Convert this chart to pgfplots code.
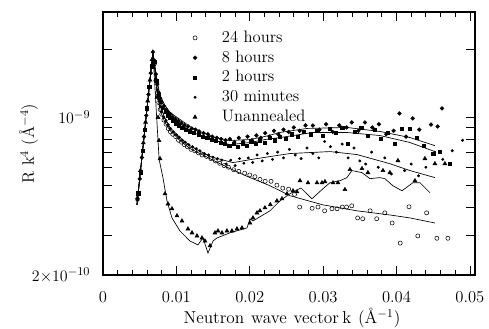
\documentclass[border=0pt]{standalone}
\usepackage{fontspec}
\usepackage{pgfplots}
\pgfplotsset{compat=1.18}
\begin{document}
\begin{tikzpicture}[font=\fontsize{12.5}{15}\selectfont]
\begin{axis}[
  scale only axis, width=280pt, height=198pt,
  xmin=0, xmax=0.0507, ymode=log, ymin=0.2, ymax=2.92,
  scaled x ticks=false,
  xtick={0,0.01,0.02,0.03,0.04,0.05},
  xticklabels={0,0.01,0.02,0.03,0.04,0.05},
  minor x tick num=4,
  ytick={0.2,0.3,0.4,0.5,0.6,0.7,0.8,0.9,1,2},
  yticklabels={$2{\times}10^{-10}$,{},{},{},{},{},{},{},$10^{-9}$,{}},
  tick align=inside, major tick length=7pt, minor tick length=3.75pt,
  tick style={black, line width=0.6pt},
  axis line style={line width=0.9pt},
  xticklabel style={yshift=-9pt},
  yticklabel style={xshift=-6pt},
  xlabel={\fontsize{13}{15}\selectfont Neutron\hspace{0.4em}wave\hspace{0.4em}vector\hspace{0.2em}k\hspace{0.4em}(Å$^{-1}$)},
  ylabel={R k$^4$ (Å$^{-4}$)},
  xlabel style={at={(axis description cs:0.508,-0.1636)}, anchor=center},
  ylabel style={at={(axis description cs:-0.2,0.5)}, anchor=center},
  legend style={draw=none, fill=none, at={(0.2325,0.94)}, anchor=north west,
    inner sep=0pt, row sep=0pt, font=\fontsize{12.5}{15}\selectfont,
    nodes={text height=9.5pt, text depth=3pt, inner sep=1.2pt}},
  legend cell align=left,
  legend image code/.code={\path[draw=none,fill=none] (0pt,0pt) -- (23pt,0pt); \draw plot coordinates {(4pt,0pt)};},
]
% ---------- scatter: 24 hours ----------
\addplot[only marks, mark=o, mark size=1.55pt, mark options={line width=0.4pt}] coordinates {
(0.0070,1.72)(0.0072,1.45)(0.0074,1.28)(0.0076,1.16)(0.0078,1.08)(0.0080,1.03)
(0.0083,0.97)(0.0086,0.93)(0.0089,0.89)(0.0092,0.86)(0.0095,0.84)(0.0099,0.82)
(0.0103,0.79)(0.0107,0.775)(0.0111,0.755)(0.0115,0.74)(0.0120,0.72)(0.0125,0.71)
(0.0130,0.695)(0.0135,0.68)(0.0141,0.67)(0.0147,0.655)(0.0153,0.64)(0.0159,0.625)
(0.0165,0.61)(0.0171,0.60)(0.0178,0.585)(0.0185,0.575)(0.0193,0.565)(0.0200,0.555)
(0.0207,0.545)(0.0214,0.53)(0.0221,0.52)(0.0229,0.52)(0.0237,0.50)(0.0245,0.485)
(0.0253,0.48)(0.0261,0.455)(0.0268,0.40)(0.0285,0.395)(0.0293,0.40)(0.0302,0.385)
(0.0312,0.393)(0.0319,0.393)(0.0326,0.40)(0.0332,0.40)(0.0339,0.405)(0.0347,0.358)
(0.0354,0.355)(0.0364,0.385)(0.0373,0.355)(0.0384,0.377)(0.0394,0.340)(0.0405,0.277)
(0.0417,0.401)(0.0429,0.298)(0.0441,0.377)(0.0455,0.291)(0.0470,0.291)
};
\addlegendentry{24 hours}
% ---------- scatter: 8 hours ----------
\addplot[only marks, mark=*, mark size=1.4pt] coordinates {
(0.0047,0.43)(0.0050,0.533)(0.0053,0.662)(0.0056,0.82)(0.0059,1.017)(0.0062,1.261)(0.0065,1.565)(0.0068,1.94)
(0.0070,1.78)(0.0072,1.55)(0.0074,1.40)(0.0076,1.28)(0.0078,1.21)(0.0080,1.16)
(0.0083,1.12)(0.0086,1.08)(0.0089,1.05)(0.0092,1.03)(0.0095,1.00)(0.0099,0.98)
(0.0103,0.96)(0.0107,0.94)(0.0111,0.92)(0.0116,0.91)(0.0121,0.89)(0.0126,0.88)
(0.0131,0.865)(0.0137,0.85)(0.0143,0.84)(0.0149,0.82)(0.0155,0.81)(0.0161,0.80)
(0.0167,0.79)(0.0173,0.80)(0.0179,0.775)(0.0185,0.81)(0.0191,0.78)(0.0197,0.82)
(0.0203,0.79)(0.0209,0.83)(0.0215,0.81)(0.0221,0.85)(0.0227,0.82)(0.0233,0.87)
(0.0239,0.84)(0.0246,0.88)(0.0253,0.86)(0.0260,0.90)(0.0268,0.87)(0.0276,0.92)
(0.0286,0.918)(0.0295,0.88)(0.0304,0.93)(0.0313,0.86)(0.0322,0.92)(0.0332,0.90)
(0.0339,0.947)(0.0348,0.87)(0.0357,0.947)(0.0367,0.90)(0.0376,0.93)(0.0386,0.84)
(0.0396,0.87)(0.0404,1.038)(0.0413,0.82)(0.0422,0.987)(0.0431,0.88)(0.0447,0.927)
(0.0456,0.909)(0.0462,1.093)
};
\addlegendentry{8 hours}
% ---------- scatter: 2 hours ----------
\addplot[only marks, mark=square*, mark size=1.2pt] coordinates {
(0.0048,0.46)(0.0051,0.57)(0.0054,0.71)(0.0057,0.88)(0.0060,1.094)(0.0063,1.36)(0.0066,1.68)
(0.0070,1.76)(0.0073,1.45)(0.0076,1.26)(0.0079,1.17)(0.0082,1.10)(0.0085,1.06)
(0.0088,1.02)(0.0091,0.99)(0.0095,0.96)(0.0099,0.94)(0.0103,0.92)(0.0108,0.90)
(0.0113,0.88)(0.0118,0.865)(0.0124,0.85)(0.0130,0.84)(0.0136,0.82)(0.0142,0.81)
(0.0148,0.795)(0.0154,0.785)(0.0160,0.77)(0.0166,0.76)(0.0172,0.745)(0.0178,0.76)
(0.0184,0.74)(0.0190,0.765)(0.0196,0.75)(0.0202,0.78)(0.0208,0.76)(0.0214,0.79)
(0.0220,0.77)(0.0227,0.81)(0.0234,0.79)(0.0241,0.82)(0.0249,0.80)(0.0257,0.84)
(0.0265,0.82)(0.0274,0.86)(0.0283,0.84)(0.0292,0.87)(0.0300,0.829)(0.0309,0.89)
(0.0317,0.85)(0.0326,0.90)(0.0334,0.763)(0.0343,0.86)(0.0352,0.90)(0.0361,0.83)
(0.0370,0.88)(0.0379,0.80)(0.0388,0.85)(0.0398,0.76)(0.0407,0.891)(0.0418,0.891)
(0.0428,0.812)(0.0437,0.75)(0.0450,0.69)(0.0459,0.70)(0.0473,0.62)
};
\addlegendentry{2 hours}
% ---------- scatter: 30 minutes ----------
\addplot[only marks, mark=*, mark size=0.9pt] coordinates {
(0.0070,1.70)(0.0072,1.48)(0.0074,1.32)(0.0076,1.20)(0.0078,1.12)(0.0080,1.06)
(0.0083,1.00)(0.0086,0.965)(0.0089,0.925)(0.0092,0.89)(0.0096,0.86)(0.0100,0.835)
(0.0104,0.815)(0.0108,0.79)(0.0112,0.775)(0.0117,0.755)(0.0122,0.74)(0.0127,0.725)
(0.0132,0.71)(0.0138,0.69)(0.0144,0.68)(0.0150,0.665)(0.0156,0.655)(0.0162,0.645)
(0.0168,0.62)(0.0174,0.645)(0.0180,0.61)(0.0186,0.655)(0.0192,0.625)(0.0198,0.66)
(0.0204,0.63)(0.0210,0.68)(0.0217,0.64)(0.0224,0.69)(0.0231,0.65)(0.0238,0.70)
(0.0246,0.66)(0.0254,0.72)(0.0262,0.68)(0.0270,0.655)(0.0278,0.73)(0.0286,0.69)
(0.0294,0.66)(0.0302,0.78)(0.0310,0.74)(0.0318,0.70)(0.0326,0.76)(0.0334,0.66)
(0.0342,0.73)(0.0350,0.64)(0.0358,0.62)(0.0366,0.70)(0.0375,0.60)(0.0384,0.66)
(0.0393,0.56)(0.0402,0.64)(0.0411,0.58)(0.0420,0.62)(0.0430,0.55)(0.0440,0.60)
(0.0452,0.70)(0.0463,0.65)(0.0476,0.71)(0.0490,0.79)
};
\addlegendentry{30 minutes}
% ---------- scatter: Unannealed ----------
\addplot[only marks, mark=triangle*, mark size=1.7pt] coordinates {
(0.0047,0.44)(0.0051,0.58)(0.0055,0.77)(0.0058,0.95)(0.0061,1.18)(0.0064,1.46)(0.0067,1.80)
(0.00736,1.224)(0.0075,0.997)(0.00763,0.788)(0.00777,0.655)
(0.00845,0.458)(0.00886,0.413)(0.0094,0.393)(0.01008,0.366)(0.01076,0.347)
(0.01158,0.32)(0.01213,0.3075)(0.01281,0.298)(0.01349,0.292)(0.0139,0.283)(0.01458,0.2695)
(0.01526,0.3075)(0.01567,0.3135)(0.01621,0.3075)(0.01689,0.3135)(0.01757,0.3135)
(0.01826,0.32)(0.01894,0.3234)(0.02003,0.34)(0.02044,0.358)(0.02098,0.377)
(0.02139,0.385)(0.02207,0.397)(0.0228,0.41)(0.0237,0.426)(0.02439,0.435)
(0.02507,0.458)(0.02589,0.472)(0.02643,0.467)(0.02684,0.523)(0.02793,0.512)
(0.02916,0.512)(0.02984,0.512)(0.03025,0.518)(0.03134,0.512)(0.03202,0.512)
(0.03297,0.478)(0.03365,0.586)(0.03529,0.592)(0.0361,0.568)(0.03815,0.58)
(0.0391,0.568)(0.04019,0.642)(0.04251,0.523)(0.04387,0.655)(0.04523,0.622)(0.04659,0.622)
};
\addlegendentry{Unannealed}
% ---------- fitted lines ----------
\addplot[black, line width=0.5pt, forget plot] coordinates {
(0.00463,0.409)(0.0068,1.94)(0.00736,1.456)(0.00777,1.249)(0.00845,1.127)(0.00913,1.049)
(0.01049,0.977)(0.01185,0.909)(0.01322,0.864)(0.01526,0.812)(0.0173,0.788)(0.02003,0.796)
(0.02207,0.821)(0.02411,0.855)(0.02779,0.891)(0.03324,0.90)(0.03774,0.864)(0.04183,0.812)(0.04523,0.748)
};
\addplot[black, line width=0.5pt, forget plot] coordinates {
(0.00463,0.409)(0.0068,1.94)(0.00736,1.43)(0.00777,1.224)(0.00845,1.093)(0.00913,1.018)
(0.01049,0.938)(0.01185,0.873)(0.01322,0.829)(0.01526,0.788)(0.0173,0.756)(0.02003,0.772)
(0.02207,0.796)(0.02411,0.812)(0.02861,0.855)(0.03324,0.855)(0.03774,0.829)(0.04183,0.772)(0.04523,0.704)
};
\addplot[black, line width=0.5pt, forget plot] coordinates {
(0.00463,0.409)(0.0068,1.94)(0.00736,1.34)(0.00777,1.127)(0.00845,0.987)(0.00913,0.90)
(0.01049,0.812)(0.01185,0.748)(0.01458,0.669)(0.01771,0.629)(0.02003,0.648)(0.02275,0.669)
(0.02548,0.69)(0.03093,0.704)(0.0346,0.683)(0.0391,0.622)(0.04183,0.58)(0.04523,0.54)
};
\addplot[black, line width=0.5pt, forget plot] coordinates {
(0.00463,0.409)(0.0068,1.94)(0.00736,1.287)(0.00777,1.071)(0.00845,0.947)(0.00913,0.873)
(0.01049,0.788)(0.01185,0.726)(0.01322,0.69)(0.01458,0.655)(0.0173,0.592)(0.02003,0.54)
(0.02275,0.497)(0.02548,0.449)(0.02997,0.409)(0.0346,0.385)(0.0391,0.369)(0.04183,0.358)(0.04523,0.34)
};
\addplot[black, line width=0.5pt, forget plot] coordinates {
(0.00463,0.409)(0.0068,1.94)(0.00765,0.65)(0.00817,0.54)(0.00872,0.426)(0.0094,0.358)
(0.01049,0.3135)(0.01185,0.283)(0.01294,0.272)(0.01362,0.292)(0.01431,0.2504)(0.01499,0.283)
(0.01553,0.292)(0.0173,0.3075)(0.01962,0.3234)(0.02003,0.3546)(0.02044,0.3474)(0.02275,0.385)
(0.02411,0.426)(0.02548,0.458)(0.02697,0.486)(0.02847,0.435)(0.02997,0.482)(0.03093,0.5126)
(0.03229,0.523)(0.03324,0.54)(0.03392,0.58)(0.03529,0.568)(0.03638,0.534)(0.03774,0.54)
(0.03842,0.534)(0.03951,0.497)(0.04074,0.472)(0.04223,0.5126)(0.04319,0.5126)(0.04455,0.463)
};
\end{axis}
\pgfresetboundingbox
\path ([xshift=-77.5pt,yshift=-39.9pt]current axis.south west) rectangle ([xshift=10.5pt,yshift=9pt]current axis.north east);
\end{tikzpicture}
\end{document}
